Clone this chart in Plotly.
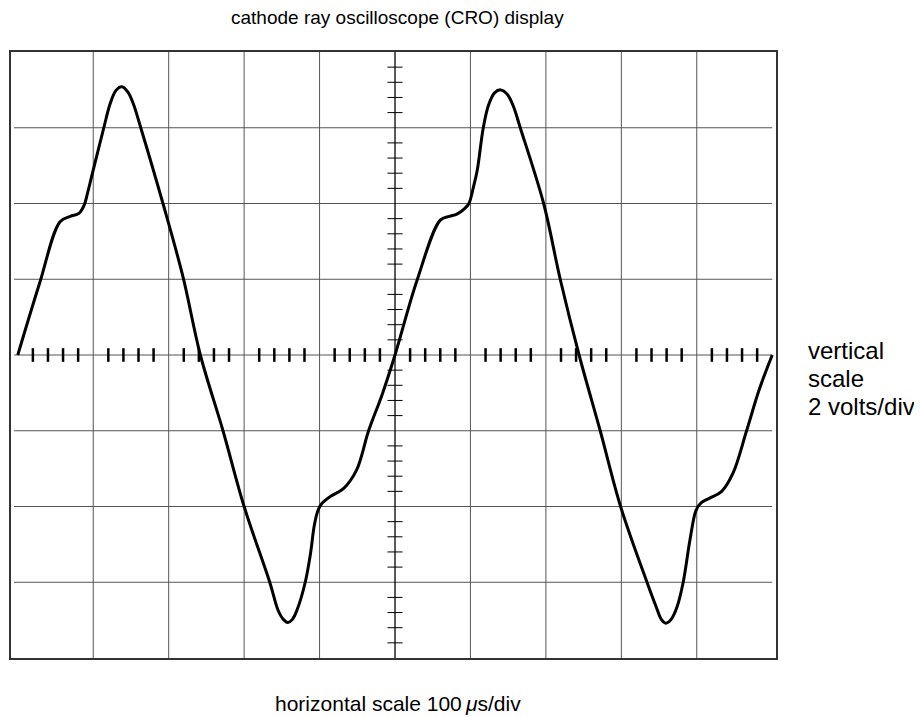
import plotly.graph_objects as go

# Waveform (x in divisions, y in divisions)
trace_x = [0.00, 0.29, 0.56, 0.695, 0.81, 0.88, 0.925, 0.98, 1.14, 1.225, 1.30, 1.38, 1.46,
           1.53, 1.63, 1.93, 2.19, 2.42, 2.72, 3.00, 3.34, 3.45, 3.52, 3.58, 3.64, 3.70,
           3.81, 3.88, 3.93, 3.98, 4.03, 4.14, 4.32, 4.49, 4.65, 4.83,
           5.00, 5.29, 5.60, 5.72, 5.82, 5.93, 5.98, 6.04, 6.09, 6.17, 6.24, 6.32, 6.40,
           6.49, 6.57, 6.66, 6.97, 7.19, 7.44, 7.72, 7.99, 8.34, 8.46, 8.53, 8.59, 8.66,
           8.74, 8.82, 8.91, 8.99, 9.06, 9.17, 9.33, 9.48, 9.66, 9.83, 10.00]
trace_y = [0.00, 0.95, 1.76, 1.83, 1.87, 1.98, 2.14, 2.36, 3.00, 3.32, 3.49, 3.54, 3.47,
           3.32, 3.00, 1.98, 1.03, 0.00, -1.00, -2.00, -3.00, -3.37, -3.49, -3.53, -3.49, -3.37,
           -3.00, -2.62, -2.25, -2.05, -1.96, -1.87, -1.76, -1.52, -1.00, -0.52,
           0.00, 0.98, 1.78, 1.83, 1.86, 1.94, 2.00, 2.22, 2.44, 3.00, 3.30, 3.46, 3.50,
           3.44, 3.28, 3.00, 2.00, 1.00, 0.00, -1.00, -2.00, -3.00, -3.32, -3.49, -3.54, -3.49,
           -3.32, -3.00, -2.44, -2.05, -1.95, -1.89, -1.80, -1.56, -1.00, -0.45, 0.00]

n_hdiv = 10
n_vdiv = 8
title_text = "cathode ray oscilloscope (CRO) display"
x_label = "horizontal scale 100\u2009<i>μ</i>s/div"
y_label_lines = ["vertical", "scale", "2 volts/div"]

OFF = 8  # page body margin
W, H = 922 - OFF, 717 - OFF
ML, MT = 11 - OFF, 52 - OFF
MR = W - (776 - OFF)
MB = H - (658 - OFF)
FONT = "Arial, Liberation Sans, sans-serif"

fig = go.Figure()
fig.add_trace(go.Scatter(x=trace_x, y=trace_y, mode="lines",
                         line=dict(color="black", width=3, shape="spline", smoothing=1.0),
                         hoverinfo="skip", showlegend=False))

shapes = []
grid_col = "#555555"
for i in range(1, n_hdiv):
    if i == n_hdiv // 2:
        continue
    shapes.append(dict(type="line", xref="x", yref="y", x0=i, x1=i, y0=-4, y1=4,
                       line=dict(color=grid_col, width=1), layer="below"))
for j in range(-n_vdiv // 2 + 1, n_vdiv // 2):
    shapes.append(dict(type="line", xref="x", yref="y", x0=-0.05, x1=n_hdiv, y0=j, y1=j,
                       line=dict(color=grid_col, width=1), layer="below"))
shapes.append(dict(type="line", xref="x", yref="y", x0=5, x1=5, y0=-4, y1=4,
                   line=dict(color="black", width=1.3), layer="below"))
for i in range(n_hdiv):
    for k in range(1, 5):
        xv = i + 0.2 * k
        shapes.append(dict(type="line", xref="x", yref="y", x0=xv, x1=xv, y0=-0.09, y1=0.09,
                           line=dict(color="black", width=2.5), layer="below"))
for j in range(-n_vdiv // 2, n_vdiv // 2):
    for k in range(1, 5):
        yv = j + 0.2 * k
        shapes.append(dict(type="line", xref="x", yref="y", x0=4.9, x1=5.1, y0=yv, y1=yv,
                           line=dict(color="black", width=1), layer="below"))

pw = W - ML - MR
ph = H - MT - MB


def px(xp):
    return (xp - OFF - ML) / pw


def py(yp):
    return (H - MB - (yp - OFF)) / ph


annotations = [
    dict(text=title_text, x=px(397), y=py(17), xref="paper", yref="paper",
         xanchor="center", yanchor="middle", showarrow=False,
         font=dict(family=FONT, size=19, color="black")),
    dict(text=x_label, x=px(398), y=py(703), xref="paper", yref="paper",
         xanchor="center", yanchor="middle", showarrow=False,
         font=dict(family=FONT, size=21, color="black")),
]
for idx, line in enumerate(y_label_lines):
    annotations.append(dict(text=line, x=px(806), y=py(350 + 28 * idx), xref="paper",
                            yref="paper", xanchor="left", yanchor="middle", showarrow=False,
                            font=dict(family=FONT, size=24, color="black")))

fig.update_layout(
    width=W, height=H,
    margin=dict(l=ML, r=MR, t=MT, b=MB),
    paper_bgcolor="white", plot_bgcolor="white",
    shapes=shapes, annotations=annotations,
    xaxis=dict(range=[-0.09, 10.05], showgrid=False, zeroline=False, showticklabels=False,
               ticks="", showline=True, mirror=True, linecolor="#333", linewidth=2,
               fixedrange=True),
    yaxis=dict(range=[-4, 4], showgrid=False, zeroline=False, showticklabels=False,
               ticks="", showline=True, mirror=True, linecolor="#333", linewidth=2,
               fixedrange=True),
)

fig.write_html("out.html")
